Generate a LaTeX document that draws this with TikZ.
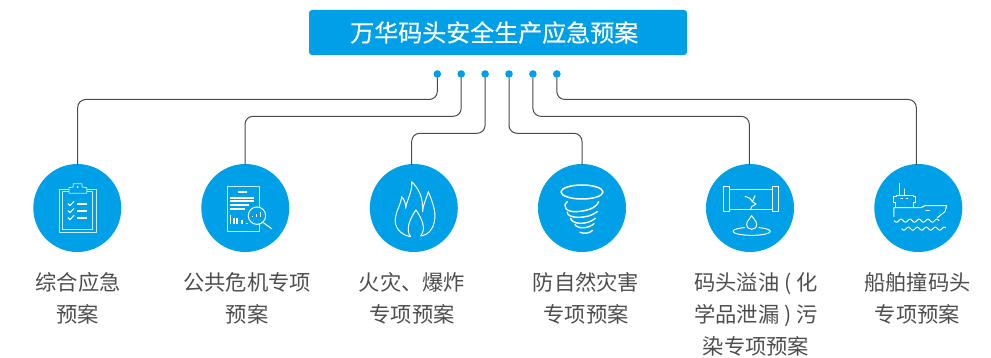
\documentclass[tikz,border=0pt]{standalone}
\usepackage{fontspec}
\setmainfont{Noto Sans CJK SC}
\newfontfamily\titlefont[FakeBold=0.4]{Noto Sans CJK SC}
\definecolor{brand}{HTML}{00A0E9}
\definecolor{wirec}{HTML}{4A4A4A}
\definecolor{labelc}{HTML}{4D4D4D}
\tikzset{
  titlebox/.style={fill=brand,rounded corners=3pt,minimum width=378pt,minimum height=45pt,inner sep=0pt,text=white,font=\titlefont\fontsize{24}{28}\selectfont},
  dotnode/.style={circle,fill=brand,minimum size=7.6pt,inner sep=0pt},
  disc/.style={circle,fill=brand,minimum size=88pt,inner sep=0pt},
  wire/.style={draw=wirec,line width=1pt,rounded corners=8pt},
  lab/.style={anchor=north,align=center,inner sep=0pt,text=labelc,font=\fontsize{21.3}{32}\selectfont},
  ic/.style={draw=white,line width=1pt,line join=round,line cap=round},
  icthin/.style={draw=white!80!brand,line width=.8pt,line join=round},
  icbold/.style={draw=white,line width=1.7pt},
  zoomA/.style={shift={(20,155)},x=.3333pt,y=-.3333pt},
  zoomB/.style={shift={(360,155)},x=.3333pt,y=-.3333pt},
  zoomC/.style={shift={(695,155)},x=.3333pt,y=-.3333pt}
}
\begin{document}
\begin{tikzpicture}[x=1pt,y=-1pt]
\useasboundingbox (0,0) rectangle (991,358);
\node[titlebox] (title) at (498,32.5) {万华码头安全生产应急预案\rule{7.5pt}{0pt}};
\foreach \n/\x in {1/437.3,2/461.2,3/485.1,4/509,5/532.9,6/556.8}
  \node[dotnode] (d\n) at (\x,74) {};
\foreach \n/\x in {1/77.3,2/245.3,3/413.8,4/582,5/750,6/918.3}
  \node[disc] (c\n) at (\x,208) {};
\coordinate (h1) at (0,99.5);
\coordinate (h2) at (0,116.3);
\coordinate (h3) at (0,133.3);
\coordinate (t1) at (77.7,165);
\coordinate (t2) at (245,165);
\coordinate (t3) at (411.7,165);
\coordinate (t4) at (582,165);
\coordinate (t5) at (749.3,165);
\coordinate (t6) at (916.3,165);
\draw[wire] (d1) -- (d1 |- h1) -- (t1 |- h1) -- (t1);
\draw[wire] (d2) -- (d2 |- h2) -- (t2 |- h2) -- (t2);
\draw[wire] (d3) -- (d3 |- h3) -- (t3 |- h3) -- (t3);
\draw[wire] (d4) -- (d4 |- h3) -- (t4 |- h3) -- (t4);
\draw[wire] (d5) -- (d5 |- h2) -- (t5 |- h2) -- (t5);
\draw[wire] (d6) -- (d6 |- h1) -- (t6 |- h1) -- (t6);
\node[lab] (l1) at (78,272) {综合应急\\预案};
\node[lab] (l2) at (247,272) {公共危机专项\\预案};
\node[lab] (l3) at (412,272) {火灾、爆炸\\专项预案};
\node[lab] (l4) at (586,272) {防自然灾害\\专项预案};
\node[lab] (l5) at (756,272) {码头溢油 ( 化\\学品泄漏 ) 污\\染专项预案};
\node[lab] (l6) at (917.5,272) {船舶撞码头\\专项预案};
% clipboard
\begin{scope}[zoomA]
\draw[icthin] (147,102) -- (118,102) -- (118,232) -- (228,232) -- (228,102) -- (200,102);
\draw[icthin] (147,110) -- (127,110) -- (127,222) -- (218,222) -- (218,110) -- (200,110);
\draw[icthin] (147,115) -- (147,98) -- (160,96) -- (160,86) -- (186,86) -- (186,96) -- (200,98) -- (200,115) -- cycle;
\fill[white] (173,96) circle (1pt);
\foreach \d in {0,21,42}{
  \draw[ic] (144,\d+146) -- (150,\d+152) -- (162,\d+139);
  \draw[icbold] (171,\d+147) -- (201,\d+147);
}
% report
\draw[icthin] (717,157) -- (717,95) -- (621,95) -- (621,230) -- (717,230) -- (717,208);
\draw[icbold] (654,110) -- (680,110);
\draw[icbold] (630,128) -- (703,128);
\draw[icbold] (630,139) -- (703,139);
\draw[icbold] (630,150) -- (687,150);
\draw[icbold] (630,161) -- (675,161);
\foreach \x/\t in {632/180,642/188,652/188,667/195,681/203}
  \draw[icbold] (\x,207) -- (\x,\t);
\draw[ic,fill=brand] (711,182) circle (8.7pt);
\draw[ic] (730,203) -- (755,221);
\foreach \x/\t in {698/182,710/176,722/170}
  \draw[icbold] (\x,187) -- (\x,\t);
\end{scope}
% flame and tornado
\begin{scope}[zoomB]
\draw[ic] (150,245) .. controls (120,238) and (100,215) .. (107,185)
  .. controls (110,165) and (122,150) .. (125,125)
  .. controls (135,135) and (137,148) .. (137,160)
  .. controls (142,130) and (158,110) .. (155,80)
  .. controls (175,100) and (190,125) .. (188,170)
  .. controls (190,145) and (200,130) .. (205,110)
  .. controls (215,135) and (230,170) .. (223,200)
  .. controls (218,225) and (205,238) .. (185,243);
\draw[ic] (152,245) .. controls (135,225) and (150,190) .. (168,165)
  .. controls (185,190) and (200,220) .. (182,243);
\draw[ic,line width=1.5pt] (666,111) ellipse (21pt and 7pt);
\draw[ic,line width=1.4pt] (622,140) .. controls (605,155) and (620,172) .. (650,170) .. controls (680,168) and (708,160) .. (716,140);
\draw[ic,line width=1.4pt] (622,172) .. controls (620,190) and (680,195) .. (712,170);
\draw[ic,line width=1.4pt] (632,190) .. controls (635,208) and (680,212) .. (706,190);
\draw[ic,line width=1.4pt] (645,208) .. controls (650,222) and (685,222) .. (702,206);
\draw[ic,line width=1.4pt] (660,232) .. controls (675,238) and (690,234) .. (698,226);
\end{scope}
% pipe and ship
\begin{scope}[zoomC]
\draw[ic] (85,96) rectangle (104,171);
\draw[ic] (233,96) rectangle (252,171);
\draw[ic] (104,103) -- (233,103);
\draw[ic] (104,163) -- (233,163);
\draw[ic] (150,124) -- (165,130) -- (172,140) -- (180,122);
\draw[ic] (172,140) -- (183,147) -- (170,155) -- (167,163);
\draw[ic] (170,229) ellipse (18.7pt and 4pt);
\draw[ic,fill=brand,preaction={draw=brand,line width=5pt}] (170,182) .. controls (165,192) and (155,198) .. (155,208) .. controls (155,228) and (185,228) .. (185,208) .. controls (185,198) and (175,192) .. (170,182) -- cycle;
\draw[ic] (614,86) -- (614,122);
\draw[ic] (629,102) -- (629,122);
\draw[ic] (604,122) -- (655,122) -- (655,125) -- (662,125) -- (662,142) -- (657,142) -- (657,158);
\draw[ic] (604,122) -- (604,125) -- (597,125) -- (597,142) -- (602,142) -- (602,158);
\draw[ic] (597,185) -- (597,158) -- (678,158) -- (690,152) -- (755,152) -- (750,170) -- (727,188);
\draw[ic] (618,132) -- (623,132);
\draw[ic] (634,132) -- (639,132);
\draw[ic] (693,166) -- (703,166);
\draw[ic,domain=598:732,samples=80,smooth] plot (\x,{197+4.5*sin(13.4*(\x-598))});
\draw[ic,domain=620:752,samples=80,smooth] plot (\x,{221+4.5*sin(13.4*(\x-620))});
\end{scope}
\end{tikzpicture}
\end{document}
